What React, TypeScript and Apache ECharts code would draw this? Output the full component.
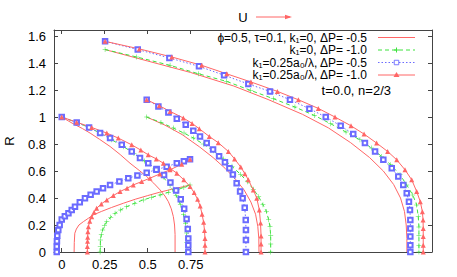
import React, { useEffect, useRef } from "react";
import * as echarts from "echarts";

const FONT = "'Liberation Sans', Arial, sans-serif";

// Tick values
const xTicks = [0, 0.25, 0.5, 0.75];
const yTicks = [0, 0.2, 0.4, 0.6, 0.8, 1, 1.2, 1.4, 1.6];

// Legend labels
const legendLabels = [
  "ϕ=0.5, τ=0.1, k₁=0, ΔP= -0.5",
  "k₁=0, ΔP= -1.0",
  "k₁=0.25a₀/λ, ΔP= -0.5",
  "k₁=0.25a₀/λ, ΔP= -1.0",
];
const noteText = "t=0.0, n=2/3";

// ---- k1=0, ΔP=-0.5 (thin red) ----
const thinRedA_out: number[][] = [[0,1],[0.06,0.955],[0.12,0.915],[0.165,0.881],[0.22,0.835],[0.281,0.782],[0.34,0.722],[0.397,0.658],[0.45,0.605],[0.494,0.559],[0.535,0.51],[0.572,0.46],[0.6,0.415],[0.62,0.373],[0.637,0.32],[0.649,0.262],[0.656,0.2],[0.659,0.13],[0.659,0]];
const thinRedA_in: number[][] = [[0.072,0],[0.073,0.07],[0.076,0.139],[0.085,0.17],[0.1,0.2],[0.126,0.225],[0.155,0.25],[0.184,0.275],[0.23,0.3],[0.29,0.33],[0.36,0.362],[0.43,0.392],[0.5,0.418],[0.57,0.443],[0.64,0.465],[0.7,0.482],[0.746,0.497]];
const thinRedB: number[][] = [[0.494,1.0],[0.6,0.94],[0.7,0.87],[0.8,0.78],[0.88,0.7],[0.95,0.62],[1.01,0.54],[1.06,0.46],[1.1,0.37],[1.127,0.28],[1.14,0.19],[1.146,0.1],[1.147,0]];
const thinRedC: number[][] = [[0.252,1.5],[0.5,1.415],[0.75,1.33],[1.0,1.23],[1.2,1.13],[1.4,1.02],[1.55,0.92],[1.68,0.81],[1.79,0.7],[1.87,0.6],[1.93,0.5],[1.97,0.4],[1.993,0.3],[2.003,0.2],[2.007,0.1],[2.007,0]];

// ---- k1=0, ΔP=-1.0 (green +) ----
const greenA_out: number[][] = [[0,1],[0.087,0.96],[0.159,0.923],[0.223,0.881],[0.29,0.832],[0.36,0.78],[0.42,0.73],[0.48,0.675],[0.54,0.615],[0.59,0.555],[0.63,0.49],[0.665,0.42],[0.69,0.35],[0.708,0.28],[0.72,0.21],[0.726,0.14],[0.727,0.07],[0.727,0]];
const greenA_in: number[][] = [[0.223,0],[0.224,0.04],[0.225,0.089],[0.23,0.13],[0.238,0.163],[0.248,0.195],[0.262,0.225],[0.285,0.258],[0.31,0.287],[0.342,0.312],[0.378,0.336],[0.425,0.362],[0.474,0.386],[0.522,0.405],[0.572,0.423],[0.62,0.442],[0.669,0.46],[0.71,0.478],[0.746,0.497]];
const greenB: number[][] = [[0.494,1.0],[0.577,0.96],[0.649,0.918],[0.711,0.881],[0.765,0.845],[0.823,0.8],[0.881,0.75],[0.94,0.69],[0.99,0.635],[1.04,0.575],[1.08,0.52],[1.114,0.465],[1.145,0.41],[1.17,0.35],[1.19,0.3],[1.203,0.24],[1.211,0.188],[1.215,0.12],[1.215,0.06],[1.215,0]];
const greenC: number[][] = [[0.252,1.5],[0.436,1.445],[0.63,1.383],[0.794,1.321],[0.959,1.264],[1.099,1.197],[1.23,1.136],[1.356,1.074],[1.469,1.012],[1.564,0.95],[1.653,0.889],[1.734,0.831],[1.802,0.77],[1.86,0.708],[1.913,0.646],[1.967,0.572],[2.006,0.497],[2.041,0.423],[2.064,0.349],[2.073,0.262],[2.077,0.186],[2.077,0.12],[2.077,0.05],[2.077,0]];

// ---- k1=0.25a0/λ, ΔP=-0.5 (blue squares) ----
const blueA_out: number[][] = [[0,1],[0.087,0.96],[0.159,0.923],[0.223,0.881],[0.281,0.844],[0.349,0.794],[0.407,0.745],[0.455,0.696],[0.503,0.658],[0.552,0.615],[0.595,0.57],[0.632,0.515],[0.665,0.455],[0.692,0.39],[0.712,0.32],[0.726,0.245],[0.733,0.17],[0.736,0.1],[0.736,0.05],[0.736,0]];
const blueA_in: number[][] = [[-0.029,0],[-0.029,0.04],[-0.028,0.08],[-0.026,0.12],[-0.02,0.163],[-0.012,0.2],[0,0.24],[0.018,0.265],[0.039,0.287],[0.058,0.312],[0.077,0.336],[0.105,0.368],[0.135,0.399],[0.168,0.425],[0.203,0.448],[0.24,0.473],[0.281,0.497],[0.335,0.522],[0.387,0.547],[0.44,0.567],[0.494,0.588],[0.55,0.61],[0.61,0.632],[0.669,0.658],[0.71,0.673],[0.746,0.688]];
const blueB: number[][] = [[0.494,1.128],[0.562,1.079],[0.62,1.034],[0.669,0.987],[0.721,0.943],[0.765,0.898],[0.804,0.856],[0.843,0.807],[0.88,0.76],[0.915,0.71],[0.949,0.665],[0.975,0.62],[0.995,0.575],[1.017,0.51],[1.037,0.448],[1.052,0.399],[1.064,0.327],[1.07,0.238],[1.071,0.163],[1.071,0.089],[1.071,0]];
const blueC: number[][] = [[0.252,1.561],[0.442,1.5],[0.626,1.438],[0.798,1.376],[0.944,1.31],[1.085,1.245],[1.211,1.19],[1.327,1.128],[1.44,1.062],[1.535,1.0],[1.622,0.935],[1.695,0.874],[1.763,0.807],[1.822,0.745],[1.87,0.683],[1.919,0.621],[1.957,0.559],[1.986,0.497],[2.006,0.436],[2.019,0.373],[2.025,0.312],[2.027,0.238],[2.027,0.175],[2.027,0.114],[2.027,0.05],[2.027,0]];

// ---- k1=0.25a0/λ, ΔP=-1.0 (red triangles) ----
const redTriA_out: number[][] = [[0,1],[0.087,0.962],[0.174,0.923],[0.262,0.881],[0.329,0.844],[0.407,0.794],[0.46,0.755],[0.503,0.72],[0.55,0.69],[0.591,0.658],[0.63,0.62],[0.669,0.584],[0.71,0.535],[0.746,0.485],[0.77,0.44],[0.79,0.39],[0.805,0.34],[0.816,0.28],[0.825,0.22],[0.83,0.16],[0.833,0.1],[0.833,0.05],[0.833,0]];
const redTriA_in: number[][] = [[0.149,0],[0.149,0.04],[0.15,0.08],[0.151,0.11],[0.152,0.15],[0.155,0.188],[0.163,0.228],[0.174,0.262],[0.188,0.295],[0.203,0.324],[0.23,0.356],[0.262,0.386],[0.3,0.418],[0.339,0.448],[0.38,0.473],[0.416,0.497],[0.465,0.522],[0.513,0.547],[0.57,0.578],[0.63,0.609],[0.698,0.651],[0.746,0.688]];
const redTriB: number[][] = [[0.494,1.128],[0.567,1.084],[0.63,1.042],[0.707,0.993],[0.758,0.953],[0.8,0.913],[0.858,0.856],[0.91,0.81],[0.969,0.745],[1.005,0.69],[1.041,0.629],[1.065,0.58],[1.085,0.535],[1.114,0.46],[1.134,0.399],[1.149,0.312],[1.156,0.215],[1.159,0.119],[1.159,0.06],[1.159,0]];
const redTriC: number[][] = [[0.252,1.561],[0.451,1.505],[0.64,1.445],[0.814,1.383],[0.96,1.32],[1.1,1.26],[1.254,1.19],[1.376,1.128],[1.492,1.064],[1.589,1.0],[1.682,0.935],[1.758,0.874],[1.831,0.807],[1.895,0.745],[1.948,0.683],[1.996,0.609],[2.035,0.535],[2.064,0.448],[2.085,0.373],[2.097,0.299],[2.101,0.238],[2.102,0.175],[2.102,0.114],[2.102,0.05],[2.102,0]];

const RED = "#ff6666";
const GREEN = "#3ee23e";
const BLUE = "#6b6bff";
const AXIS = "#444";
const PLUS = "path://M4.5,0H5.5V4.5H10V5.5H5.5V10H4.5V5.5H0V4.5H4.5Z";

type Sty = { color: string; dash: any; symbol: string; size: number; width: number; border: number };
const thinRedSty: Sty = { color: RED, dash: "solid", symbol: "none", size: 0, width: 1, border: 0 };
const greenSty: Sty = { color: GREEN, dash: [4, 3], symbol: PLUS, size: 5, width: 1, border: 0 };
const blueSty: Sty = { color: BLUE, dash: [1.5, 2], symbol: "emptyRect", size: 4.5, width: 1, border: 0.9 };
const redTriSty: Sty = { color: RED, dash: "solid", symbol: "triangle", size: 5, width: 1, border: 0 };

function mk(name: string, data: number[][], s: Sty) {
  return {
    name,
    type: "line",
    data,
    symbol: s.symbol,
    symbolSize: s.size,
    showSymbol: s.symbol !== "none",
    symbolKeepAspect: true,
    lineStyle: { color: s.color, width: s.width, type: s.dash },
    itemStyle: { color: s.color, borderColor: s.color, borderWidth: s.border },
    emphasis: { disabled: true },
    silent: true,
    clip: true,
  };
}

export default function App() {
  const ref = useRef<HTMLDivElement>(null);
  useEffect(() => {
    if (!ref.current) return;
    const chart = echarts.init(ref.current, undefined, { renderer: "svg" });

    const legendX = 367;
    const rowY = [37.5, 50, 62.5, 75];
    const sx1 = 378, sx2 = 415, sxm = 396.5;
    const graphics: any[] = [];
    legendLabels.forEach((t, i) => {
      graphics.push({
        type: "text",
        x: legendX,
        y: rowY[i],
        style: { text: t, fill: "#000", font: `12px ${FONT}`, lineHeight: 11, align: "right", verticalAlign: "middle" },
      });
    });
    graphics.push({ type: "line", shape: { x1: sx1, y1: rowY[0], x2: sx2, y2: rowY[0] }, style: { stroke: RED, lineWidth: 1 } });
    graphics.push({ type: "line", shape: { x1: sx1, y1: rowY[1], x2: sx2, y2: rowY[1] }, style: { stroke: GREEN, lineWidth: 1, lineDash: [4, 3] } });
    graphics.push({ type: "line", shape: { x1: sxm - 2.5, y1: rowY[1], x2: sxm + 2.5, y2: rowY[1] }, style: { stroke: GREEN, lineWidth: 1 } });
    graphics.push({ type: "line", shape: { x1: sxm, y1: rowY[1] - 2.5, x2: sxm, y2: rowY[1] + 2.5 }, style: { stroke: GREEN, lineWidth: 1 } });
    graphics.push({ type: "line", shape: { x1: sx1, y1: rowY[2], x2: sx2, y2: rowY[2] }, style: { stroke: BLUE, lineWidth: 1, lineDash: [1.5, 2] } });
    graphics.push({ type: "rect", shape: { x: sxm - 2.25, y: rowY[2] - 2.25, width: 4.5, height: 4.5 }, style: { stroke: BLUE, fill: "#fff", lineWidth: 0.9 } });
    graphics.push({ type: "line", shape: { x1: sx1, y1: rowY[3], x2: sx2, y2: rowY[3] }, style: { stroke: RED, lineWidth: 1 } });
    graphics.push({ type: "polygon", shape: { points: [[sxm, rowY[3] - 3], [sxm - 3, rowY[3] + 2], [sxm + 3, rowY[3] + 2]] }, style: { fill: RED } });
    graphics.push({
      type: "text", x: 391, y: 90,
      style: { text: noteText, fill: "#000", font: `13px ${FONT}`, align: "right", verticalAlign: "middle" },
    });
    // U arrow
    graphics.push({
      type: "text", x: 243, y: 17,
      style: { text: "U", fill: "#000", font: `13px ${FONT}`, align: "center", verticalAlign: "middle" },
    });
    graphics.push({ type: "line", shape: { x1: 256, y1: 17, x2: 290, y2: 17 }, style: { stroke: RED, lineWidth: 1 } });
    graphics.push({ type: "polygon", shape: { points: [[292, 17], [285, 14.8], [285, 19.2]] }, style: { fill: RED } });

    const xMin = -0.045, xMax = 2.153, yMin = 0, yMax = 1.645;
    const baseX = {
      type: "value",
      min: xMin,
      max: xMax,
      splitLine: { show: false },
      axisLine: { show: true, onZero: false, lineStyle: { color: AXIS, width: 1 } },
      axisTick: { show: true, inside: true, length: 4, customValues: xTicks, lineStyle: { color: AXIS } },
    };
    const baseY = {
      type: "value",
      min: yMin,
      max: yMax,
      splitLine: { show: false },
      axisLine: { show: true, onZero: false, lineStyle: { color: AXIS, width: 1 } },
      axisTick: { show: true, inside: true, length: 4, customValues: yTicks, lineStyle: { color: AXIS } },
    };

    chart.setOption({
      animation: false,
      backgroundColor: "#fff",
      grid: { left: 54, right: 25, top: 30, bottom: 25, containLabel: false, outerBoundsMode: "none" },
      xAxis: [
        {
          ...baseX,
          position: "bottom",
          axisLabel: { show: true, customValues: xTicks, formatter: (v: number) => String(v), fontSize: 13, fontFamily: FONT, color: "#000", margin: 6 },
        },
        { ...baseX, position: "top", axisLabel: { show: false } },
      ],
      yAxis: [
        {
          ...baseY,
          position: "left",
          name: "R",
          nameLocation: "middle",
          nameGap: 38,
          nameRotate: 90,
          nameTextStyle: { fontSize: 13, fontFamily: FONT, color: "#000" },
          axisLabel: { show: true, customValues: yTicks, formatter: (v: number) => String(v), fontSize: 13, fontFamily: FONT, color: "#000", margin: 8 },
        },
        { ...baseY, position: "right", axisLabel: { show: false } },
      ],
      graphic: graphics,
      series: [
        mk(legendLabels[0], thinRedA_out, thinRedSty),
        mk(legendLabels[0], thinRedA_in, thinRedSty),
        mk(legendLabels[0], thinRedB, thinRedSty),
        mk(legendLabels[0], thinRedC, thinRedSty),
        mk(legendLabels[1], greenA_out, greenSty),
        mk(legendLabels[1], greenA_in, greenSty),
        mk(legendLabels[1], greenB, greenSty),
        mk(legendLabels[1], greenC, greenSty),
        mk(legendLabels[2], blueA_out, blueSty),
        mk(legendLabels[2], blueA_in, blueSty),
        mk(legendLabels[2], blueB, blueSty),
        mk(legendLabels[2], blueC, blueSty),
        mk(legendLabels[3], redTriA_out, redTriSty),
        mk(legendLabels[3], redTriA_in, redTriSty),
        mk(legendLabels[3], redTriB, redTriSty),
        mk(legendLabels[3], redTriC, redTriSty),
      ],
    });
    return () => chart.dispose();
  }, []);
  return <div ref={ref} style={{ position: "fixed", left: 0, top: 0, width: 457, height: 277, background: "#fff" }} />;
}
